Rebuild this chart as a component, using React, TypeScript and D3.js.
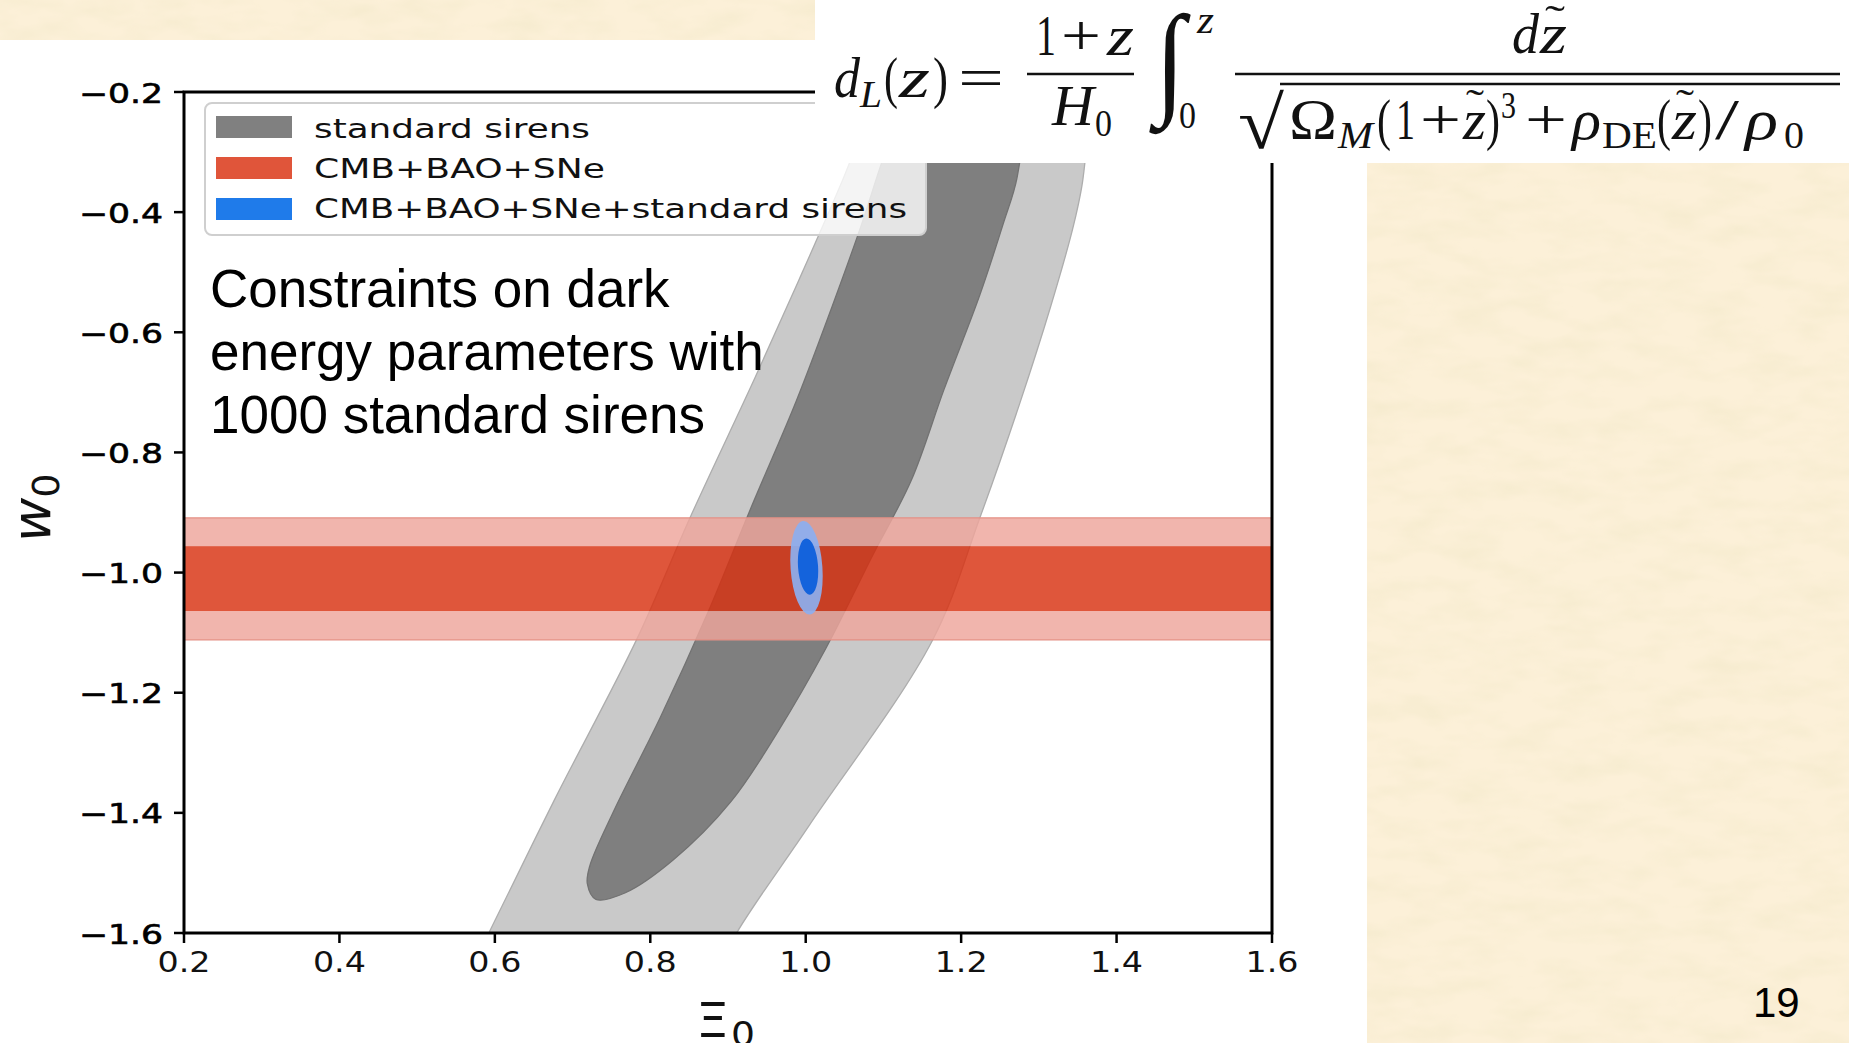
import React from 'react';
import * as d3 from 'd3';

const W = 1849;
const H = 1043;

// axis ticks
const xTicks = [0.2, 0.4, 0.6, 0.8, 1.0, 1.2, 1.4, 1.6];
const yTicks = [-0.2, -0.4, -0.6, -0.8, -1.0, -1.2, -1.4, -1.6];

// standard sirens 2-sigma region, outline as a loop of [Xi0, w0]
const sirens2s: [number, number][] = [
  [0.57, -1.656], [0.593, -1.598], [0.676, -1.38], [0.783, -1.11], [0.851, -0.909],
  [0.935, -0.675], [0.996, -0.499], [1.049, -0.342], [1.079, -0.244], [1.117, -0.146],
  [1.178, -0.087], [1.254, -0.087], [1.33, -0.126], [1.36, -0.263], [1.357, -0.342],
  [1.345, -0.42], [1.315, -0.558], [1.275, -0.72], [1.224, -0.909], [1.163, -1.113],
  [1.005, -1.42], [0.912, -1.598], [0.882, -1.674],
];

// standard sirens 1-sigma region
const sirens1s: [number, number][] = [
  [0.73, -1.544], [0.719, -1.518], [0.722, -1.489], [0.753, -1.397], [0.813, -1.241],
  [0.874, -1.067], [0.93, -0.891], [0.988, -0.714], [1.034, -0.557], [1.072, -0.42],
  [1.102, -0.302], [1.132, -0.205], [1.208, -0.126], [1.254, -0.165], [1.278, -0.244],
  [1.272, -0.342], [1.254, -0.42], [1.224, -0.538], [1.178, -0.695], [1.136, -0.846],
  [1.087, -0.969], [1.026, -1.126], [0.965, -1.263], [0.904, -1.381], [0.829, -1.479],
  [0.768, -1.533],
];

// CMB+BAO+SNe bands in w0 (low, high)
const cmb2s: [number, number] = [-1.112, -0.909];
const cmb1s: [number, number] = [-1.064, -0.956];

// CMB+BAO+SNe+standard sirens: centre and half widths in Xi0 / w0
const comb2s = { cx: 1.001, cy: -0.992, hx: 0.0205, hy: 0.078 };
const comb1s = { cx: 1.003, cy: -0.99, hx: 0.0129, hy: 0.047 };

const legendLabels = ['standard sirens', 'CMB+BAO+SNe', 'CMB+BAO+SNe+standard sirens'];
const legendColors = ['#808080', '#e0553a', '#1f7bea'];
const legendTextLen = [276, 291, 593];

const noteLines = ['Constraints on dark', 'energy parameters with', '1000 standard sirens'];

const sans = '"DejaVu Sans", sans-serif';
const arial = '"Liberation Sans", Arial, sans-serif';
const serif = '"Liberation Serif", "Times New Roman", serif';

const left = 184, right = 1272, top = 92, bottom = 933;

// formula pieces: glyphs, x, width, baseline, size, italic
type Tok = [string, number, number, number, number, boolean?];
const formula: Tok[] = [
  ['d', 834, 26, 97, 56, true],
  ['L', 860, 22, 107, 38, true],
  ['(', 884, 14, 97, 56],
  ['z', 899, 31, 97, 56, true],
  [')', 933, 15, 97, 56],
  ['=', 958, 46, 97, 56],
  ['1', 1036, 20, 55, 56],
  ['+', 1061, 40, 55, 56],
  ['z', 1107, 27, 55, 56, true],
  ['H', 1052, 42, 125, 56, true],
  ['0', 1095, 17, 136, 38],
  ['∫', 1155, 30, 101, 124],
  ['z', 1197, 17, 33, 38, true],
  ['0', 1179, 17, 128, 38],
  ['d', 1512, 27, 53, 56, true],
  ['z', 1540, 27, 53, 56, true],
  ['˜', 1545, 20, 33, 40],
  ['√', 1238, 46, 148, 74],
  ['Ω', 1289, 48, 139, 56],
  ['M', 1338, 35, 148, 38, true],
  ['(', 1377, 14, 139, 56],
  ['1', 1396, 19, 139, 56],
  ['+', 1420, 41, 139, 56],
  ['z', 1463, 23, 139, 56, true],
  ['˜', 1466, 18, 116, 38],
  [')', 1486, 14, 139, 56],
  ['3', 1501, 15, 118, 38],
  ['+', 1525, 42, 139, 56],
  ['ρ', 1572, 29, 139, 56, true],
  ['DE', 1602, 55, 148, 38],
  ['(', 1657, 14, 139, 56],
  ['z', 1672, 25, 139, 56, true],
  ['˜', 1676, 18, 116, 38],
  [')', 1698, 14, 139, 56],
  ['/', 1715, 24, 139, 56],
  ['ρ', 1745, 33, 139, 56, true],
  ['0', 1784, 20, 148, 38],
];

export default function App() {
  const x = d3.scaleLinear().domain([0.2, 1.6]).range([left, right]);
  const y = d3.scaleLinear().domain([-0.2, -1.6]).range([top, bottom]);

  const loop = d3
    .line<[number, number]>()
    .x((d) => x(d[0]))
    .y((d) => y(d[1]))
    .curve(d3.curveCatmullRomClosed.alpha(0.5));

  const fmt = (v: number) => (v < 0 ? '\u2212' : '') + Math.abs(v).toFixed(1);

  const ellipse = (e: typeof comb2s, fill: string, op: number) => (
    <ellipse
      cx={x(e.cx)}
      cy={y(e.cy)}
      rx={x(e.cx + e.hx) - x(e.cx)}
      ry={y(e.cy - e.hy) - y(e.cy)}
      fill={fill}
      opacity={op}
      transform={`rotate(-4 ${x(e.cx)} ${y(e.cy)})`}
    />
  );

  return (
    <svg
      width={W}
      height={H}
      style={{ position: 'absolute', left: 0, top: 0, display: 'block' }}
    >
      <defs>
        <clipPath id="plot">
          <rect x={left} y={top} width={right - left} height={bottom - top} />
        </clipPath>
        <filter id="paper" x="0" y="0" width="100%" height="100%">
          <feTurbulence type="fractalNoise" baseFrequency="0.02 0.05" numOctaves="3" seed="7" />
          <feColorMatrix
            type="matrix"
            values="0 0 0 0 0.9  0 0 0 0 0.82  0 0 0 0 0.6  1.3 0 0 0 -0.5"
          />
          <feComposite in2="SourceGraphic" operator="in" />
        </filter>
      </defs>

      <rect width={W} height={H} fill="#ffffff" />

      {/* contours */}
      <g clipPath="url(#plot)">
        <path d={loop(sirens2s) || ''} fill="#c9c9c9" stroke="#adadad" strokeWidth={1.3} />
        <path d={loop(sirens1s) || ''} fill="#7f7f7f" stroke="#727272" strokeWidth={1.3} />

        <g opacity={0.82}>
          <rect x={left} width={right - left} y={y(cmb2s[1])} height={y(cmb1s[1]) - y(cmb2s[1])} fill="#efa69c" />
          <rect x={left} width={right - left} y={y(cmb1s[0])} height={y(cmb2s[0]) - y(cmb1s[0])} fill="#efa69c" />
          <rect x={left} width={right - left} y={y(cmb1s[1])} height={y(cmb1s[0]) - y(cmb1s[1])} fill="#d93111" />
        </g>
        <line x1={left} x2={right} y1={y(cmb2s[1])} y2={y(cmb2s[1])} stroke="#e48f85" strokeWidth={1.2} />
        <line x1={left} x2={right} y1={y(cmb2s[0])} y2={y(cmb2s[0])} stroke="#e48f85" strokeWidth={1.2} />

        {ellipse(comb2s, '#8caff0', 0.92)}
        {ellipse(comb1s, '#1463dc', 1)}
      </g>

      {/* spines */}
      <rect x={left} y={top} width={right - left} height={bottom - top} fill="none" stroke="#000" strokeWidth={3} />

      {/* ticks */}
      {yTicks.map((t) => (
        <g key={'y' + t}>
          <line x1={left - 10} x2={left} y1={y(t)} y2={y(t)} stroke="#000" strokeWidth={2.5} />
          <text
            x={163}
            y={y(t) + 10.5}
            textAnchor="end"
            fontFamily={sans}
            fontSize={27}
            textLength={84}
            lengthAdjust="spacingAndGlyphs"
            stroke="#000"
            strokeWidth={0.6}
            fill="#000"
          >
            {fmt(t)}
          </text>
        </g>
      ))}
      {xTicks.map((t) => (
        <g key={'x' + t}>
          <line x1={x(t)} x2={x(t)} y1={bottom} y2={bottom + 10} stroke="#000" strokeWidth={2.5} />
          <text
            x={x(t) - 26.5}
            y={972}
            fontFamily={sans}
            fontSize={28}
            textLength={53}
            lengthAdjust="spacingAndGlyphs"
            fill="#111"
          >
            {fmt(t)}
          </text>
        </g>
      ))}

      {/* axis titles */}
      <text x={696} y={1037} fontFamily={sans} fontSize={48} textLength={33} lengthAdjust="spacingAndGlyphs" fill="#111">
        Ξ
      </text>
      <text x={731} y={1046} fontFamily={sans} fontSize={34} textLength={24} lengthAdjust="spacingAndGlyphs" fill="#111">
        0
      </text>
      <g transform="translate(50 542) rotate(-90)">
        <text x={0} y={0} fontFamily={sans} fontSize={54} fontStyle="italic" fill="#111">
          w<tspan fontSize={38} dy={9} fontStyle="normal">0</tspan>
        </text>
      </g>

      {/* legend */}
      <rect x={205} y={103} width={721} height={132} rx={7} fill="#fff" fillOpacity={0.8} stroke="#cfcfcf" strokeWidth={2} />
      {legendLabels.map((l, i) => (
        <g key={l}>
          <rect x={216} y={116 + i * 41} width={76} height={22} fill={legendColors[i]} />
          <text
            x={314}
            y={138 + i * 40}
            fontFamily={sans}
            fontSize={26}
            textLength={legendTextLen[i]}
            lengthAdjust="spacingAndGlyphs"
            fill="#111"
          >
            {l}
          </text>
        </g>
      ))}

      {/* annotation */}
      {noteLines.map((l, i) => (
        <text key={l} x={210} y={307 + i * 63} fontFamily={arial} fontSize={53} fill="#000">
          {l}
        </text>
      ))}

      {/* slide background pieces */}
      <rect x={0} y={0} width={815} height={40} fill="#fcf0d8" />
      <rect x={0} y={0} width={815} height={40} fill="#fff" filter="url(#paper)" />
      <rect x={1367} y={163} width={W - 1367} height={H - 163} fill="#fcf0d8" />
      <rect x={1367} y={163} width={W - 1367} height={H - 163} fill="#fff" filter="url(#paper)" />

      {/* formula */}
      <rect x={815} y={0} width={W - 815} height={163} fill="#fff" />
      <g fontFamily={serif} fill="#111">
        {formula.map(([s, fx, fw, fy, fs, it], i) => (
          <text
            key={i}
            x={fx}
            y={fy}
            fontSize={fs}
            fontStyle={it ? 'italic' : 'normal'}
            textLength={fw}
            lengthAdjust="spacingAndGlyphs"
          >
            {s}
          </text>
        ))}
        <line x1={1027} x2={1134} y1={74} y2={74} stroke="#111" strokeWidth={2.5} />
        <line x1={1235} x2={1840} y1={74} y2={74} stroke="#111" strokeWidth={2.5} />
        <line x1={1280} x2={1840} y1={84} y2={84} stroke="#111" strokeWidth={2.5} />
      </g>

      <text x={1753} y={1017} fontFamily={arial} fontSize={42} fill="#000">19</text>
    </svg>
  );
}
